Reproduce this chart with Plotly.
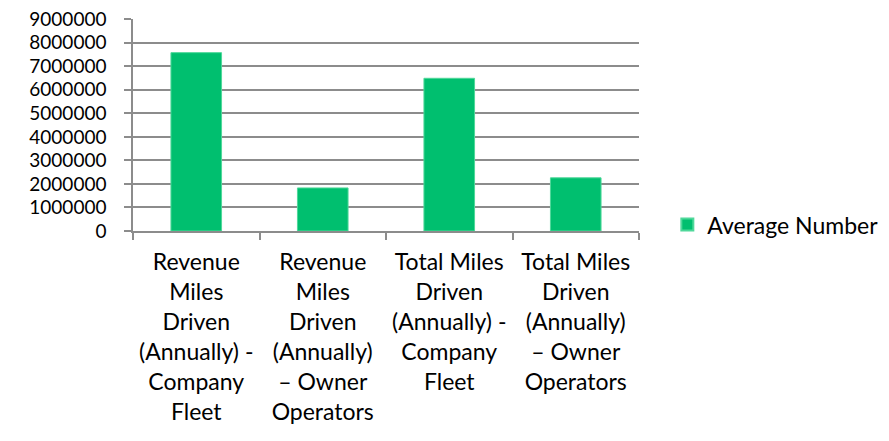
import plotly.graph_objects as go

categories = [
    "Revenue<br>Miles<br>Driven<br>(Annually) -<br>Company<br>Fleet",
    "Revenue<br>Miles<br>Driven<br>(Annually)<br>– Owner<br>Operators",
    "Total Miles<br>Driven<br>(Annually) -<br>Company<br>Fleet",
    "Total Miles<br>Driven<br>(Annually)<br>– Owner<br>Operators",
]
values = [7580000, 1830000, 6490000, 2260000]
series_name = "Average Number"
y_ticks = [0, 1000000, 2000000, 3000000, 4000000, 5000000, 6000000, 7000000, 8000000, 9000000]

FONT = "Lato, Carlito, Calibri, sans-serif"
grid = "#8c8c8c"

fig = go.Figure()
fig.add_trace(go.Bar(
    x=categories, y=values, name=series_name,
    marker=dict(color="#00bf6f", line=dict(color="#4fd89a", width=1)),
    width=0.4, showlegend=True,
))

fig.update_layout(
    width=881, height=433,
    margin=dict(l=125, r=250, t=11, b=210, autoexpand=False),
    paper_bgcolor="white", plot_bgcolor="white",
    font=dict(family=FONT, size=22, color="#000000"),
    showlegend=True,
    legend=dict(x=1.056, y=0.03, xanchor="left", yanchor="middle",
                font=dict(family=FONT, size=23, color="#000000"),
                itemwidth=30, bgcolor="rgba(0,0,0,0)", borderwidth=0,
                itemsizing="constant"),
    xaxis=dict(
        type="category", showgrid=False, showline=True, linecolor=grid, linewidth=1.5,
        ticks="outside", tickson="boundaries", ticklen=7, tickcolor=grid, tickwidth=1.5,
        tickangle=0, tickfont=dict(family=FONT, size=23, color="#000000"),
        ticklabelstandoff=10, automargin=False,
    ),
    yaxis=dict(
        range=[0, 9010000], tickvals=y_ticks, ticktext=[str(v) for v in y_ticks],
        showgrid=True, gridcolor=grid, gridwidth=1.5,
        showline=True, linecolor=grid, linewidth=1.5,
        ticks="outside", ticklen=7, tickcolor=grid, tickwidth=1.5,
        zeroline=False, tickfont=dict(family=FONT, size=19, color="#000000"),
        ticklabelstandoff=14, automargin=False, ticklabeloverflow="allow",
    ),
    bargap=0.6,
)

fig.write_html("out.html")
